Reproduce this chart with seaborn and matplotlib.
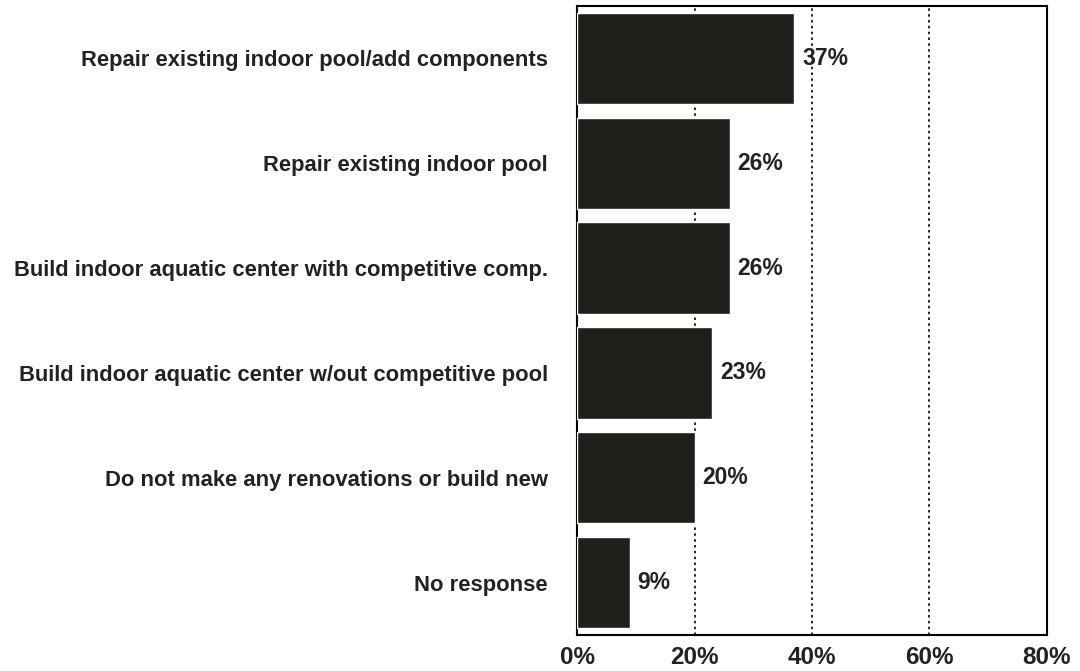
import matplotlib
matplotlib.use("Agg")
import matplotlib.pyplot as plt
import seaborn as sns
import pandas as pd
from matplotlib.ticker import FuncFormatter

categories = [
    "Repair existing indoor pool/add components",
    "Repair existing indoor pool",
    "Build indoor aquatic center with competitive comp.",
    "Build indoor aquatic center w/out competitive pool",
    "Do not make any renovations or build new",
    "No response",
]
values = [37, 26, 26, 23, 20, 9]
xticks = [0, 20, 40, 60, 80]

df = pd.DataFrame({"cat": categories, "val": values})

sns.set_theme(style="white")
plt.rcParams["font.family"] = ["Liberation Sans", "DejaVu Sans"]

fig = plt.figure(figsize=(10.8, 6.71), dpi=100)
ax = fig.add_axes([0.5343, 0.0537, 0.4351, 0.9373])

sns.barplot(data=df, x="val", y="cat", orient="h", color="#1f1f1c",
            width=0.87, saturation=1, ax=ax, zorder=3)

ax.set_xlim(0, 80)
ax.set_ylim(5.5, -0.5)
ax.set_xticks(xticks)
ax.xaxis.set_major_formatter(FuncFormatter(lambda v, p: f"{int(v)}%"))
for x in xticks[1:-1]:
    ax.axvline(x, color="black", linestyle=(0, (1.5, 2)), linewidth=1.2, zorder=1)

for i, v in enumerate(values):
    ax.text(v + 1.3, i, f"{v}%", va="center", ha="left", fontsize=16.5,
            fontweight="bold", color="#222222")

ax.set_xlabel("")
ax.set_ylabel("")
ax.tick_params(axis="y", length=0, pad=21, labelsize=15.8)
ax.tick_params(axis="x", length=0, pad=8, labelsize=17.5)
for lab in ax.get_yticklabels():
    lab.set_color("#222222")
    lab.set_fontweight("bold")
for lab in ax.get_xticklabels():
    lab.set_color("#222222")
    lab.set_fontweight("bold")
for s in ax.spines.values():
    s.set_color("black")
    s.set_linewidth(1.5)

fig.savefig("out.png", dpi=100)
